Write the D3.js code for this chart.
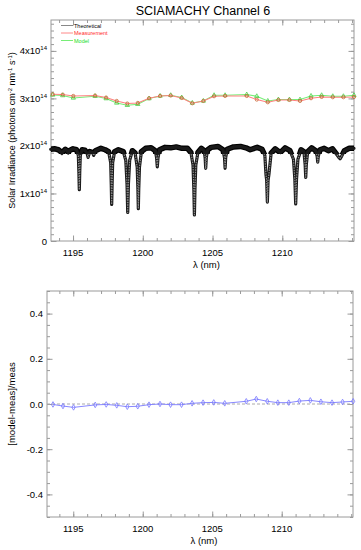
<!DOCTYPE html>
<html>
<head>
<meta charset="utf-8">
<script src="https://cdn.jsdelivr.net/npm/d3@7"></script>
<style>
body { margin: 0; background: #fff; }
svg text { font-family: "Liberation Sans", Arial, sans-serif; }
</style>
</head>
<body>
<div id="chart"></div>
<script>
// sample wavelengths of the measurement / model points (nm)
var lam = [1193.54, 1194.26, 1195.02, 1196.58, 1197.37, 1198.13, 1198.89, 1199.64, 1200.45,
  1201.24, 1202.00, 1202.79, 1203.55, 1204.34, 1205.11, 1205.90, 1207.45, 1208.17, 1208.96,
  1209.72, 1210.51, 1211.27, 1212.06, 1212.82, 1213.62, 1214.38, 1215.14];
// irradiance in units of 1e14 photons cm-2 nm-1 s-1
var meas = [3.088, 3.082, 3.052, 3.061, 3.019, 2.947, 2.892, 2.905, 3.004, 3.052, 3.061, 3.010,
  2.898, 2.947, 3.046, 3.052, 3.052, 2.976, 2.919, 2.968, 2.968, 2.947, 3.004, 3.031, 3.025,
  3.025, 3.031];
var model = [3.073, 3.061, 3.010, 3.046, 2.997, 2.905, 2.856, 2.877, 2.997, 3.052, 3.067, 3.019,
  2.905, 2.947, 3.067, 3.067, 3.082, 3.046, 2.947, 2.976, 2.976, 2.976, 3.052, 3.067, 3.046,
  3.046, 3.067];
// (model-meas)/meas
var ratio = [-0.002, -0.009, -0.015, -0.004, -0.002, -0.006, -0.012, -0.010, -0.003, 0.000,
  -0.003, -0.003, 0.003, 0.006, 0.007, 0.003, 0.012, 0.022, 0.012, 0.006, 0.006, 0.013, 0.016,
  0.010, 0.006, 0.009, 0.012];

// theoretical solar spectrum (hand read, 1e14 units)
var theoLam = [
  1193.40, 1193.70, 1193.95, 1194.12, 1194.20, 1194.28, 1194.45, 1194.60, 1194.66, 1194.72,
  1195.00, 1195.25, 1195.38, 1195.42, 1195.45, 1195.48, 1195.52, 1195.65, 1195.85, 1196.00,
  1196.08, 1196.20, 1196.40, 1196.48, 1196.60, 1197.00, 1197.30, 1197.55, 1197.70, 1197.74,
  1197.77, 1197.80, 1197.84, 1197.98, 1198.25, 1198.60, 1198.78, 1198.87, 1198.92, 1198.97,
  1199.06, 1199.25, 1199.45, 1199.60, 1199.65, 1199.68, 1199.71, 1199.76, 1199.90, 1200.20,
  1200.60, 1200.90, 1200.99, 1201.04, 1201.09, 1201.20, 1201.60, 1202.00, 1202.40, 1202.80,
  1203.20, 1203.45, 1203.60, 1203.66, 1203.70, 1203.74, 1203.80, 1203.95, 1204.20, 1204.40,
  1204.47, 1204.51, 1204.55, 1204.65, 1204.90, 1205.40, 1205.75, 1205.86, 1205.90, 1205.94,
  1206.05, 1206.50, 1207.00, 1207.40, 1207.70, 1208.20, 1208.55, 1208.75, 1208.83, 1208.88,
  1208.93, 1208.98, 1209.04, 1209.20, 1209.50, 1209.85, 1210.20, 1210.55, 1210.80, 1210.90,
  1210.96, 1211.02, 1211.12, 1211.35, 1211.55, 1211.64, 1211.68, 1211.72, 1211.82, 1212.10,
  1212.40, 1212.50, 1212.54, 1212.58, 1212.70, 1213.00, 1213.30, 1213.60, 1213.90, 1214.05,
  1214.14, 1214.25, 1214.45, 1214.80, 1215.14];
var theoIrr = [
  1.93, 1.94, 1.92, 1.88, 1.84, 1.88, 1.93, 1.89, 1.85, 1.90,
  1.94, 1.92, 1.80, 1.45, 1.08, 1.45, 1.80, 1.92, 1.91, 1.85,
  1.76, 1.88, 1.86, 1.80, 1.90, 1.95, 1.92, 1.88, 1.65, 1.20,
  0.77, 1.20, 1.65, 1.88, 1.92, 1.88, 1.70, 1.20, 0.60, 1.20,
  1.70, 1.90, 1.85, 1.55, 1.10, 0.68, 1.10, 1.55, 1.88, 1.95,
  1.96, 1.90, 1.75, 1.56, 1.75, 1.92, 1.97, 1.96, 1.98, 1.95,
  1.95, 1.86, 1.60, 1.10, 0.55, 1.10, 1.60, 1.86, 1.95, 1.90,
  1.75, 1.53, 1.75, 1.92, 1.97, 1.99, 1.92, 1.75, 1.53, 1.75,
  1.93, 1.98, 1.99, 1.96, 1.92, 1.97, 1.93, 1.80, 1.40, 1.28,
  0.82, 1.28, 1.40, 1.85, 1.94, 1.86, 1.96, 1.90, 1.72, 1.30,
  0.78, 1.30, 1.72, 1.92, 1.88, 1.60, 1.34, 1.60, 1.88, 1.96,
  1.90, 1.78, 1.66, 1.78, 1.92, 1.95, 1.90, 1.94, 1.82, 1.76,
  1.73, 1.78, 1.90, 1.95, 1.95];

var xTicks = [1195, 1200, 1205, 1210];
var yTicksTop = [0, 1, 2, 3, 4];
var yTicksBot = [-0.4, -0.2, 0.0, 0.2, 0.4];
var legendNames = ["Theoretical", "Measurement", "Model"];
var legendColors = ["#000000", "#ff2a2a", "#22dd22"];

var svgWidth = 361, svgHeight = 550;
var svg = d3.select("#chart").append("svg")
  .attr("width", svgWidth)
  .attr("height", svgHeight);
svg.append("rect").attr("width", svgWidth).attr("height", svgHeight).attr("fill", "#fff");

var frameColor = "#9a9a9a";

// panel geometry
var top1 = {left: 51, right: 354, top: 20, bottom: 241};
var top2 = {left: 47, right: 353, top: 291, bottom: 517};

var x1 = d3.scaleLinear().domain([1193.42, 1215.14]).range([top1.left, top1.right]);
var y1 = d3.scaleLinear().domain([0, 4.65]).range([top1.bottom, top1.top]);
var x2 = d3.scaleLinear().domain([1193.11, 1215.13]).range([top2.left, top2.right]);
var y2 = d3.scaleLinear().domain([-0.5, 0.5]).range([top2.bottom, top2.top]);

// IDL-like frame with inward ticks on all four sides
function drawFrame(p, x, y, yMajor, yMinor) {
  var g = svg.append("g");
  var xMinor = d3.range(1194, 1216, 1);
  var sides = [
    {axis: d3.axisBottom, scale: x, tr: "translate(0," + p.bottom + ")"},
    {axis: d3.axisTop, scale: x, tr: "translate(0," + p.top + ")"},
    {axis: d3.axisLeft, scale: y, tr: "translate(" + p.left + ",0)"},
    {axis: d3.axisRight, scale: y, tr: "translate(" + p.right + ",0)"}
  ];
  sides.forEach(function(s, i) {
    var isX = i < 2;
    var major = isX ? xTicks : yMajor;
    var minor = isX ? xMinor : yMinor;
    g.append("g").attr("transform", s.tr)
      .call(s.axis(s.scale).tickValues(minor).tickSize(-3).tickFormat(""))
      .call(function(a) { a.select(".domain").remove(); a.selectAll("line").attr("stroke", frameColor); });
    g.append("g").attr("transform", s.tr)
      .call(s.axis(s.scale).tickValues(major).tickSize(-5.5).tickFormat(""))
      .call(function(a) { a.select(".domain").remove(); a.selectAll("line").attr("stroke", frameColor); });
  });
  g.append("rect")
    .attr("x", p.left).attr("y", p.top)
    .attr("width", p.right - p.left).attr("height", p.bottom - p.top)
    .attr("fill", "none").attr("stroke", frameColor).attr("stroke-width", 1);
  // x tick labels
  g.selectAll(".xl").data(xTicks).enter().append("text")
    .attr("x", d => x(d)).attr("y", p.bottom + 15)
    .attr("text-anchor", "middle").attr("font-size", 9.5).attr("fill", "#000")
    .text(d => d);
  g.append("text")
    .attr("x", (p.left + p.right) / 2 + 4).attr("y", p.bottom + 27)
    .attr("text-anchor", "middle").attr("font-size", 9.5)
    .text("\u03bb (nm)");
  return g;
}

// ---------- top panel ----------
var g1 = drawFrame(top1, x1, y1, yTicksTop, d3.range(0, 4.65, 1 / 7));

var ylab1 = g1.selectAll(".yl").data(yTicksTop).enter().append("text")
  .attr("x", top1.left - 4).attr("y", d => y1(d) + 3.5)
  .attr("text-anchor", "end").attr("font-size", 9.5);
ylab1.each(function(d) {
  var t = d3.select(this);
  if (d === 0) { t.text("0"); return; }
  t.append("tspan").text(d + "x10");
  t.append("tspan").attr("dy", -4).attr("font-size", 6).text("14");
});

svg.append("text")
  .attr("x", 203).attr("y", 15)
  .attr("text-anchor", "middle").attr("font-size", 12.5)
  .text("SCIAMACHY Channel 6");

var yt1 = svg.append("text")
  .attr("transform", "translate(15," + (top1.top + top1.bottom) / 2 + ") rotate(-90)")
  .attr("text-anchor", "middle").attr("font-size", 9);
yt1.append("tspan").text("Solar Irradiance (photons cm");
yt1.append("tspan").attr("dy", -3).attr("font-size", 6).text("-2");
yt1.append("tspan").attr("dy", 3).text(" nm");
yt1.append("tspan").attr("dy", -3).attr("font-size", 6).text("-1");
yt1.append("tspan").attr("dy", 3).text(" s");
yt1.append("tspan").attr("dy", -3).attr("font-size", 6).text("-1");
yt1.append("tspan").attr("dy", 3).text(")");

var plot1 = svg.append("g");
var theo = theoLam.map((d, i) => [d, theoIrr[i]]);
var theoLine = d3.line().x(d => x1(d[0])).y(d => y1(d[1]));

// continuum is drawn as a thick band, line cores as a chain of rings
var cut = y1(1.83);
svg.append("clipPath").attr("id", "contClip")
  .append("rect").attr("x", top1.left).attr("y", top1.top)
  .attr("width", top1.right - top1.left).attr("height", cut - top1.top);
svg.append("clipPath").attr("id", "coreClip")
  .append("rect").attr("x", top1.left).attr("y", cut)
  .attr("width", top1.right - top1.left).attr("height", top1.bottom - cut);

plot1.append("path").datum(theo)
  .attr("clip-path", "url(#contClip)")
  .attr("fill", "none").attr("stroke", "#000").attr("stroke-width", 5.5)
  .attr("stroke-linejoin", "round").attr("stroke-linecap", "round")
  .attr("d", theoLine);
plot1.append("path").datum(theo)
  .attr("fill", "none").attr("stroke", "#1a1a1a").attr("stroke-width", 3.2)
  .attr("stroke-linejoin", "round").attr("stroke-linecap", "round")
  .attr("d", theoLine);
plot1.append("path").datum(theo)
  .attr("clip-path", "url(#coreClip)")
  .attr("fill", "none").attr("stroke", "#8a8a8a").attr("stroke-width", 1.2)
  .attr("stroke-dasharray", "1.5,1")
  .attr("stroke-linejoin", "round")
  .attr("d", theoLine);

var modelPts = lam.map((d, i) => [d, model[i]]);
var measPts = lam.map((d, i) => [d, meas[i]]);
plot1.append("path").datum(modelPts)
  .attr("fill", "none").attr("stroke", "#77ee77").attr("stroke-width", 1.1)
  .attr("d", d3.line().x(d => x1(d[0])).y(d => y1(d[1])));
plot1.selectAll(".mt").data(modelPts).enter().append("path")
  .attr("transform", d => "translate(" + x1(d[0]) + "," + y1(d[1]) + ")")
  .attr("d", d3.symbol(d3.symbolTriangle, 8)())
  .attr("fill", "none").attr("stroke", "#33cc33").attr("stroke-width", 0.7);
plot1.append("path").datum(measPts)
  .attr("fill", "none").attr("stroke", "#ff8080").attr("stroke-width", 1.1)
  .attr("d", d3.line().x(d => x1(d[0])).y(d => y1(d[1])));
plot1.selectAll(".mc").data(measPts).enter().append("circle")
  .attr("cx", d => x1(d[0])).attr("cy", d => y1(d[1])).attr("r", 1.6)
  .attr("fill", "none").attr("stroke", "#c86432").attr("stroke-width", 0.8);

// legend
var leg = svg.append("g");
legendNames.forEach(function(n, i) {
  var ly = 25.5 + i * 7.5;
  leg.append("line").attr("x1", 61).attr("x2", 73).attr("y1", ly).attr("y2", ly)
    .attr("stroke", i === 0 ? "#888" : (i === 1 ? "#ff8888" : "#77ee77")).attr("stroke-width", 1);
  leg.append("text").attr("x", 74).attr("y", ly + 2)
    .attr("font-size", 5.5).attr("fill", legendColors[i]).text(n);
});

// ---------- bottom panel ----------
var g2 = drawFrame(top2, x2, y2, yTicksBot, d3.range(-0.5, 0.501, 0.05));
g2.selectAll(".yl").data(yTicksBot).enter().append("text")
  .attr("x", top2.left - 4).attr("y", d => y2(d) + 3.5)
  .attr("text-anchor", "end").attr("font-size", 9.5)
  .text(d => d3.format(".1f")(d).replace("\u2212", "-"));

svg.append("text")
  .attr("transform", "translate(15," + (top2.top + top2.bottom) / 2 + ") rotate(-90)")
  .attr("text-anchor", "middle").attr("font-size", 9.5)
  .text("[model-meas]/meas");

var plot2 = svg.append("g");
plot2.append("line")
  .attr("x1", top2.left).attr("x2", top2.right)
  .attr("y1", y2(0)).attr("y2", y2(0))
  .attr("stroke", "#aaa").attr("stroke-dasharray", "3,2").attr("stroke-width", 1);
var ratioPts = lam.map((d, i) => [d, ratio[i]]);
plot2.append("path").datum(ratioPts)
  .attr("fill", "none").attr("stroke", "#8888ff").attr("stroke-width", 1)
  .attr("d", d3.line().x(d => x2(d[0])).y(d => y2(d[1])));
plot2.selectAll(".rd").data(ratioPts).enter().append("path")
  .attr("transform", d => "translate(" + x2(d[0]) + "," + y2(d[1]) + ")")
  .attr("d", d3.symbol(d3.symbolDiamond, 9)())
  .attr("fill", "none").attr("stroke", "#7777ff").attr("stroke-width", 0.8);
</script>
</body>
</html>
